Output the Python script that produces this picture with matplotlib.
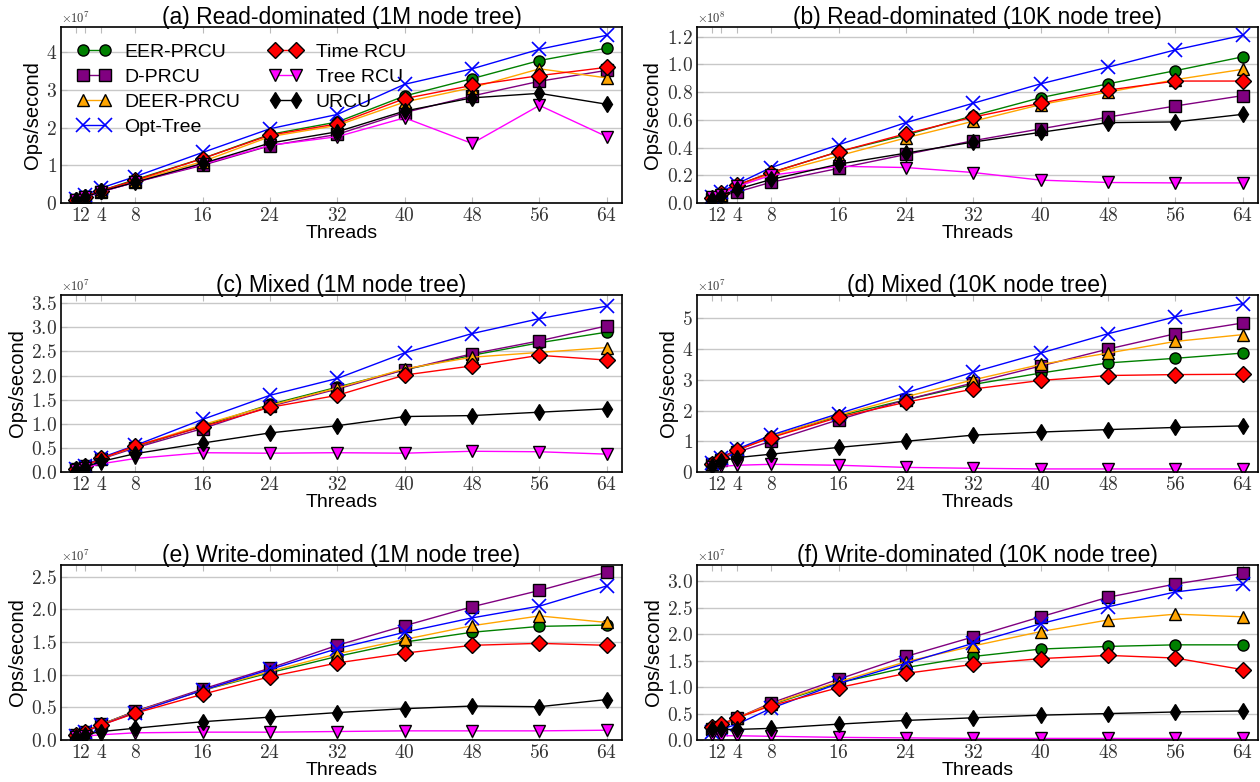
import numpy as np
import matplotlib
matplotlib.use('Agg')
import matplotlib.pyplot as plt
from matplotlib.ticker import MultipleLocator, ScalarFormatter

plt.rcParams['font.family'] = 'cmr10'
plt.rcParams['mathtext.fontset'] = 'cm'
plt.rcParams['axes.formatter.use_mathtext'] = True

SANS = 'Liberation Sans'

threads = [1, 2, 4, 8, 16, 24, 32, 40, 48, 56, 64]
names = ['EER-PRCU', 'D-PRCU', 'DEER-PRCU', 'Opt-Tree', 'Time RCU', 'Tree RCU', 'URCU']
colors = ['green', 'purple', 'orange', 'blue', 'red', 'magenta', 'black']
markers = ['o', 's', '^', 'x', 'D', 'v', 'd']

# (a) read-dominated, 1M nodes  (x1e7)
read_1m = {
    'EER-PRCU':  [0.08, 0.17, 0.33, 0.62, 1.18, 1.82, 2.15, 2.84, 3.30, 3.78, 4.11],
    'D-PRCU':    [0.07, 0.15, 0.30, 0.55, 1.00, 1.52, 1.82, 2.40, 2.84, 3.23, 3.52],
    'DEER-PRCU': [0.07, 0.16, 0.31, 0.58, 1.10, 1.76, 2.06, 2.68, 3.06, 3.56, 3.32],
    'Opt-Tree':  [0.10, 0.20, 0.40, 0.70, 1.34, 1.97, 2.35, 3.15, 3.56, 4.08, 4.45],
    'Time RCU':  [0.08, 0.17, 0.33, 0.60, 1.18, 1.80, 2.10, 2.77, 3.12, 3.38, 3.60],
    'Tree RCU':  [0.07, 0.15, 0.30, 0.55, 1.03, 1.53, 1.76, 2.26, 1.58, 2.59, 1.76],
    'URCU':      [0.07, 0.15, 0.31, 0.55, 1.05, 1.59, 1.89, 2.44, 2.79, 2.91, 2.62],
}
# (b) read-dominated, 10K nodes  (x1e8)
read_10k = {
    'EER-PRCU':  [0.035, 0.07, 0.13, 0.22, 0.37, 0.49, 0.63, 0.76, 0.86, 0.955, 1.055],
    'D-PRCU':    [0.03, 0.05, 0.08, 0.15, 0.25, 0.35, 0.45, 0.535, 0.62, 0.70, 0.775],
    'DEER-PRCU': [0.03, 0.06, 0.12, 0.21, 0.34, 0.47, 0.59, 0.71, 0.80, 0.89, 0.965],
    'Opt-Tree':  [0.04, 0.08, 0.14, 0.256, 0.42, 0.58, 0.72, 0.86, 0.98, 1.105, 1.21],
    'Time RCU':  [0.035, 0.07, 0.13, 0.22, 0.37, 0.50, 0.62, 0.72, 0.815, 0.88, 0.88],
    'Tree RCU':  [0.04, 0.06, 0.12, 0.20, 0.265, 0.256, 0.22, 0.165, 0.148, 0.145, 0.145],
    'URCU':      [0.03, 0.05, 0.10, 0.17, 0.28, 0.36, 0.44, 0.51, 0.58, 0.585, 0.64],
}
# (c) mixed, 1M nodes  (x1e7)
mixed_1m = {
    'EER-PRCU':  [0.06, 0.13, 0.28, 0.52, 0.95, 1.40, 1.76, 2.12, 2.42, 2.68, 2.90],
    'D-PRCU':    [0.06, 0.12, 0.27, 0.50, 0.90, 1.36, 1.72, 2.12, 2.45, 2.72, 3.03],
    'DEER-PRCU': [0.06, 0.13, 0.28, 0.53, 0.98, 1.38, 1.74, 2.14, 2.38, 2.48, 2.58],
    'Opt-Tree':  [0.07, 0.13, 0.30, 0.55, 1.09, 1.59, 1.94, 2.47, 2.87, 3.18, 3.44],
    'Time RCU':  [0.06, 0.13, 0.28, 0.54, 0.94, 1.34, 1.59, 2.01, 2.20, 2.42, 2.32],
    'Tree RCU':  [0.05, 0.09, 0.17, 0.28, 0.40, 0.39, 0.40, 0.39, 0.43, 0.42, 0.37],
    'URCU':      [0.05, 0.10, 0.22, 0.38, 0.60, 0.81, 0.96, 1.15, 1.17, 1.24, 1.31],
}
# (d) mixed, 10K nodes  (x1e7)
mixed_10k = {
    'EER-PRCU':  [0.28, 0.45, 0.72, 1.15, 1.82, 2.35, 2.85, 3.22, 3.55, 3.70, 3.87],
    'D-PRCU':    [0.25, 0.40, 0.65, 1.00, 1.70, 2.35, 2.90, 3.45, 4.00, 4.50, 4.85],
    'DEER-PRCU': [0.27, 0.44, 0.72, 1.15, 1.85, 2.45, 3.00, 3.50, 3.87, 4.25, 4.47],
    'Opt-Tree':  [0.30, 0.45, 0.75, 1.20, 1.90, 2.58, 3.25, 3.87, 4.50, 5.05, 5.48],
    'Time RCU':  [0.25, 0.45, 0.72, 1.12, 1.78, 2.27, 2.70, 2.98, 3.14, 3.17, 3.18],
    'Tree RCU':  [0.15, 0.18, 0.22, 0.25, 0.22, 0.15, 0.12, 0.10, 0.10, 0.10, 0.10],
    'URCU':      [0.20, 0.35, 0.47, 0.58, 0.80, 1.00, 1.20, 1.30, 1.38, 1.45, 1.50],
}
# (e) write-dominated, 1M nodes  (x1e7)
write_1m = {
    'EER-PRCU':  [0.07, 0.13, 0.24, 0.44, 0.76, 1.03, 1.28, 1.50, 1.65, 1.74, 1.76],
    'D-PRCU':    [0.07, 0.13, 0.24, 0.44, 0.78, 1.10, 1.45, 1.75, 2.04, 2.29, 2.57],
    'DEER-PRCU': [0.07, 0.13, 0.24, 0.43, 0.76, 1.05, 1.32, 1.54, 1.75, 1.90, 1.80],
    'Opt-Tree':  [0.06, 0.12, 0.23, 0.42, 0.76, 1.08, 1.40, 1.65, 1.87, 2.05, 2.36],
    'Time RCU':  [0.07, 0.13, 0.23, 0.41, 0.70, 0.97, 1.18, 1.33, 1.45, 1.48, 1.45],
    'Tree RCU':  [0.05, 0.06, 0.08, 0.11, 0.12, 0.12, 0.13, 0.14, 0.14, 0.14, 0.15],
    'URCU':      [0.05, 0.08, 0.13, 0.18, 0.28, 0.35, 0.42, 0.48, 0.52, 0.51, 0.62],
}
# (f) write-dominated, 10K nodes  (x1e7)
write_10k = {
    'EER-PRCU':  [0.22, 0.28, 0.42, 0.67, 1.08, 1.37, 1.58, 1.72, 1.77, 1.80, 1.80],
    'D-PRCU':    [0.20, 0.25, 0.42, 0.70, 1.15, 1.58, 1.95, 2.33, 2.70, 2.95, 3.15],
    'DEER-PRCU': [0.22, 0.28, 0.42, 0.68, 1.10, 1.48, 1.78, 2.05, 2.27, 2.38, 2.33],
    'Opt-Tree':  [0.15, 0.20, 0.30, 0.60, 1.07, 1.45, 1.83, 2.20, 2.52, 2.80, 2.95],
    'Time RCU':  [0.25, 0.30, 0.42, 0.65, 0.99, 1.26, 1.43, 1.54, 1.60, 1.55, 1.33],
    'Tree RCU':  [0.10, 0.08, 0.08, 0.07, 0.05, 0.04, 0.03, 0.03, 0.03, 0.03, 0.03],
    'URCU':      [0.20, 0.20, 0.20, 0.22, 0.30, 0.37, 0.42, 0.47, 0.50, 0.53, 0.55],
}

panels = [
    ('(a) Read-dominated (1M node tree)', read_1m, 1e7, 4.67, 1.0),
    ('(b) Read-dominated (10K node tree)', read_10k, 1e8, 1.27, 0.2),
    ('(c) Mixed (1M node tree)', mixed_1m, 1e7, 3.67, 0.5),
    ('(d) Mixed (10K node tree)', mixed_10k, 1e7, 5.76, 1.0),
    ('(e) Write-dominated (1M node tree)', write_1m, 1e7, 2.68, 0.5),
    ('(f) Write-dominated (10K node tree)', write_10k, 1e7, 3.31, 0.5),
]

fig = plt.figure(figsize=(12.6, 7.82), dpi=100)
lefts = [61 / 1260, 697 / 1260]
rows = [(27, 203), (295, 472), (565, 740)]
W = 1260.0
H = 782.0

for i, (title, data, scale, ytop, ystep) in enumerate(panels):
    r, c = divmod(i, 2)
    top, bot = rows[r]
    ax = fig.add_axes([lefts[c], 1 - bot / H, 561 / W, (bot - top) / H])
    for name, col, mk in zip(names, colors, markers):
        vals = np.array(data[name]) * scale
        ms = 10 if mk == 'x' else 8
        ax.plot(threads, vals, color=col, marker=mk, markersize=ms, lw=1.0,
                markeredgecolor='black' if mk != 'x' else col,
                markeredgewidth=1.0 if mk != 'x' else 1.2, label=name)
    ax.set_xlim(-0.8, 65.8)
    ax.set_ylim(0, ytop * scale)
    ax.set_xticks(threads)
    ax.yaxis.set_major_locator(MultipleLocator(ystep * scale))
    fmt = ScalarFormatter(useMathText=True)
    fmt.set_powerlimits((0, 0))
    ax.yaxis.set_major_formatter(fmt)
    ax.yaxis.get_offset_text().set_fontsize(9)
    ax.yaxis.get_offset_text().set_color('#444444')
    ax.grid(axis='y', color='#c8c8c8', lw=1.0)
    ax.set_axisbelow(True)
    ax.tick_params(axis='both', labelsize=14, colors='#333333', direction='in',
                   top=True, length=4, pad=3)
    ax.tick_params(axis='both', color='#bbbbbb')
    for sp in ax.spines.values():
        sp.set_linewidth(1.2)
    ax.set_title(title, fontsize=16.5, family=SANS, pad=2)
    ax.set_xlabel('Threads', fontsize=14, family=SANS, labelpad=0)
    ax.set_ylabel('Ops/second', fontsize=14.5, family=SANS, labelpad=3)
    if i == 0:
        ax.legend(loc='upper left', ncol=2, frameon=False, numpoints=2,
                  prop={'family': SANS, 'size': 14}, handlelength=1.7,
                  handletextpad=0.7, labelspacing=0.38, columnspacing=1.5,
                  borderaxespad=0.45)

fig.savefig('out.png', dpi=100)
